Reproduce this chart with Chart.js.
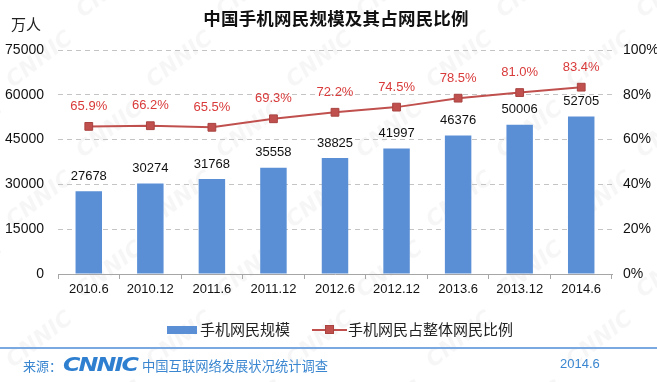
<!DOCTYPE html>
<html>
<head>
<meta charset="utf-8">
<script src="https://cdn.jsdelivr.net/npm/chart.js@4.4.1/dist/chart.umd.min.js"></script>
<style>
  html, body { margin:0; padding:0; background:#fff; }
  #wrap { position:relative; width:657px; height:382px; overflow:hidden; font-family:"Liberation Sans","Noto Sans CJK SC",sans-serif; }
  canvas { position:absolute; left:0; top:0; }
  .abs { position:absolute; white-space:nowrap; }
  #title { left:0; width:672px; top:5px; text-align:center; font:bold 17.5px "Noto Sans CJK SC",sans-serif; color:#111; letter-spacing:0.2px; }
  #unit { left:11px; top:13px; font:15px "Noto Sans CJK SC",sans-serif; color:#222; }
  #legend { left:0; top:318px; width:657px; height:22px; font:15px "Noto Sans CJK SC",sans-serif; color:#222; }
  #footline { left:0; top:347px; width:657px; height:2px; background:#7AA8E0; }
  #src { left:23px; top:356px; font:13px "Noto Sans CJK SC",sans-serif; color:#3A86D0; }
  #logo { left:63px; top:353px; font:italic 900 19px "DejaVu Sans","Liberation Sans",sans-serif; color:#2F7FD0; letter-spacing:-1.5px; transform:scaleX(1.25); transform-origin:left center; }
  #survey { left:142px; top:356px; font:13.3px "Noto Sans CJK SC",sans-serif; color:#3A86D0; }
  #date { left:560px; top:356px; font:13px "Liberation Sans",sans-serif; color:#3A86D0; }
</style>
</head>
<body>
<div id="wrap">
  <canvas id="c" width="657" height="382"></canvas>
  <div class="abs" id="title">中国手机网民规模及其占网民比例</div>
  <div class="abs" id="unit">万人</div>
  <div class="abs" id="legend">
    <span class="abs" style="left:167px;top:8px;width:30px;height:8px;background:#5A8FD6;"></span>
    <span class="abs" style="left:200px;top:0px;">手机网民规模</span>
    <span class="abs" style="left:312px;top:11px;width:35px;height:2px;background:#C0504D;"></span>
    <span class="abs" style="left:325px;top:7px;background:#C0504D;border:1px solid #A84340;box-sizing:border-box;width:9px;height:9px;"></span>
    <span class="abs" style="left:348px;top:0px;">手机网民占整体网民比例</span>
  </div>
  <div class="abs" id="footline"></div>
  <div class="abs" id="src">来源：</div>
  <div class="abs" id="logo">CNNIC</div>
  <div class="abs" id="survey">中国互联网络发展状况统计调查</div>
  <div class="abs" id="date">2014.6</div>
</div>
<script>
const categories = ["2010.6","2010.12","2011.6","2011.12","2012.6","2012.12","2013.6","2013.12","2014.6"];
const mobileUsers = [27678, 30274, 31768, 35558, 38825, 41997, 46376, 50006, 52705];
const mobileShare = [65.9, 66.2, 65.5, 69.3, 72.2, 74.5, 78.5, 81.0, 83.4];
const leftTicks = [0, 15000, 30000, 45000, 60000, 75000];
const rightTicks = [0, 20, 40, 60, 80, 100];

const watermark = {
  id: 'watermark',
  beforeDraw(chart) {
    const ctx = chart.ctx;
    ctx.save();
    ctx.fillStyle = 'rgba(0,0,0,0.035)';
    ctx.font = 'italic 900 22px "DejaVu Sans", sans-serif';
    ctx.textAlign = 'center';
    ctx.textBaseline = 'middle';
    let row = 0;
    for (let y = -10; y < 420; y += 70, row++) {
      for (let x = -30 + (row % 2) * 70; x < 720; x += 140) {
        ctx.save();
        ctx.translate(x, y);
        ctx.rotate(-38 * Math.PI / 180);
        ctx.fillText('CNNIC', 0, 0);
        ctx.restore();
      }
    }
    ctx.restore();
  }
};

const valueLabels = {
  id: 'valueLabels',
  afterDatasetsDraw(chart) {
    const ctx = chart.ctx;
    ctx.save();
    ctx.textAlign = 'center';
    ctx.textBaseline = 'middle';
    const barMeta = chart.getDatasetMeta(0);
    ctx.font = '13px "Liberation Sans", sans-serif';
    ctx.fillStyle = '#111';
    barMeta.data.forEach((el, i) => {
      ctx.fillText(String(mobileUsers[i]), el.x, el.y - 15);
    });
    const lineMeta = chart.getDatasetMeta(1);
    ctx.fillStyle = '#D93A3A';
    lineMeta.data.forEach((el, i) => {
      ctx.fillText(mobileShare[i].toFixed(1) + '%', el.x, el.y - 20);
    });
    ctx.restore();
  }
};

new Chart(document.getElementById('c'), {
  data: {
    labels: categories,
    datasets: [
      {
        type: 'bar',
        label: '手机网民规模',
        data: mobileUsers,
        yAxisID: 'y',
        backgroundColor: '#5A8FD6',
        borderWidth: 0,
        categoryPercentage: 1.0,
        barPercentage: 0.43,
        order: 1
      },
      {
        type: 'line',
        label: '手机网民占整体网民比例',
        data: mobileShare,
        yAxisID: 'y1',
        borderColor: '#C0504D',
        backgroundColor: '#C0504D',
        borderWidth: 2,
        pointStyle: 'rect',
        pointRadius: 5.5,
        pointBorderColor: '#A84340',
        pointBorderWidth: 1,
        pointBackgroundColor: '#C0504D',
        tension: 0,
        order: 0
      }
    ]
  },
  options: {
    responsive: false,
    animation: false,
    devicePixelRatio: 1,
    layout: { padding: { top: 50, bottom: 78, left: 0, right: 0 } },
    plugins: { legend: { display: false }, tooltip: { enabled: false }, title: { display: false } },
    scales: {
      x: {
        offset: true,
        afterFit(s) { s.height = 30; },
        grid: { drawOnChartArea: false, drawTicks: true, tickLength: 5, color: '#A6A6A6', offset: true },
        border: { color: '#A6A6A6', width: 1 },
        ticks: { color: '#111', font: { size: 13, family: '"Liberation Sans", sans-serif' }, padding: 3, maxRotation: 0, autoSkip: false }
      },
      y: {
        position: 'left',
        min: 0, max: 75000,
        afterFit(s) { s.width = 58; },
        afterBuildTicks(s) { s.ticks = leftTicks.map(v => ({ value: v })); },
        grid: { color: '#C4C4C4', drawTicks: false, lineWidth: 1 },
        border: { display: false, dash: [5, 4], dashOffset: 0 },
        ticks: { color: '#111', font: { size: 14, family: '"Liberation Sans", sans-serif' }, padding: 14, callback: v => String(v) }
      },
      y1: {
        position: 'right',
        min: 0, max: 100,
        afterFit(s) { s.width = 45; },
        afterBuildTicks(s) { s.ticks = rightTicks.map(v => ({ value: v })); },
        grid: { drawOnChartArea: false, drawTicks: false },
        border: { display: false },
        ticks: { color: '#111', font: { size: 14, family: '"Liberation Sans", sans-serif' }, padding: 11, callback: v => v + '%' }
      }
    }
  },
  plugins: [watermark, valueLabels]
});
</script>
</body>
</html>
